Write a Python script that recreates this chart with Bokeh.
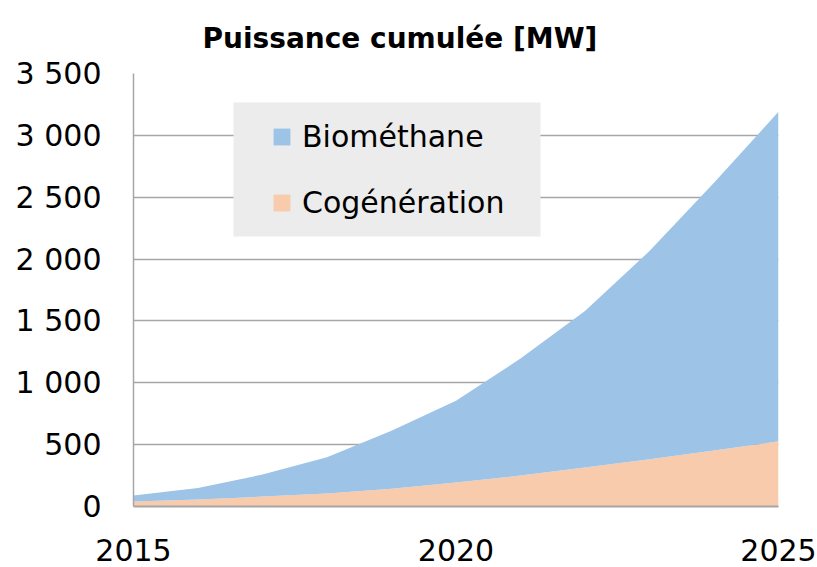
from bokeh.plotting import figure
from bokeh.models import (ColumnDataSource, Legend, LegendItem, FixedTicker,
                          Range1d, BoxAnnotation)
from bokeh.embed import file_html
from bokeh.resources import INLINE

# ---- data ----
years = [2015, 2016, 2017, 2018, 2019, 2020, 2021, 2022, 2023, 2024, 2025]
cogeneration = [40, 57, 80, 106, 143, 193, 250, 315, 382, 452, 527]
biomethane = [49, 93, 178, 292, 470, 662, 946, 1265, 1683, 2164, 2663]
series_names = ["Biométhane", "Cogénération"]
series_colors = ["#9dc3e6", "#f8cbad"]
y_ticks = [0, 500, 1000, 1500, 2000, 2500, 3000, 3500]
y_tick_labels = ["0", "500", "1 000", "1 500", "2 000", "2 500", "3 000", "3 500"]
x_ticks = [2015, 2020, 2025]
x_tick_labels = ["2015", "2020", "2025"]
title_text = "Puissance cumulée [MW]"

FONT = "DejaVu Sans"

src = ColumnDataSource(dict(year=years, cog=cogeneration, bio=biomethane))

p = figure(width=817, height=567, output_backend="svg", toolbar_location=None,
           x_range=Range1d(2015, 2025), y_range=Range1d(0, 3500),
           min_border_left=133, min_border_right=39, min_border_top=72,
           min_border_bottom=61)

p.title.text = title_text
p.title.text_font = FONT
p.title.text_font_size = "28px"
p.title.text_font_style = "bold"
p.title.text_color = "black"
p.title.align = "left"
p.title.offset = 69
p.title.standoff = 38

p.outline_line_color = None
p.background_fill_color = "white"
p.border_fill_color = "white"

r_cog, r_bio = p.varea_stack(stackers=["cog", "bio"], x="year", source=src,
                             color=[series_colors[1], series_colors[0]])

# grid
p.xgrid.grid_line_color = None
p.ygrid.grid_line_color = "#a6a6a6"
p.ygrid.grid_line_width = 1.5
p.ygrid.ticker = FixedTicker(ticks=y_ticks)

# axes
for ax in (p.xaxis[0], p.yaxis[0]):
    ax.major_tick_out = 0
    ax.major_tick_in = 0
    ax.minor_tick_out = 0
    ax.minor_tick_in = 0
    ax.axis_line_color = "#a6a6a6"
    ax.major_label_text_font = FONT
    ax.major_label_text_font_size = "30px"
    ax.major_label_text_color = "black"

p.xaxis.axis_line_width = 2
p.yaxis.axis_line_width = 1.5
p.xaxis.ticker = FixedTicker(ticks=x_ticks)
p.xaxis.major_label_overrides = {t: l for t, l in zip(x_ticks, x_tick_labels)}
p.xaxis.major_label_standoff = 32
p.yaxis.ticker = FixedTicker(ticks=y_ticks)
p.yaxis.major_label_overrides = {t: l for t, l in zip(y_ticks, y_tick_labels)}
p.yaxis.major_label_standoff = 32

# legend background box
box = BoxAnnotation(left=100, right=407, bottom=270, top=404,
                    left_units="screen", right_units="screen",
                    bottom_units="screen", top_units="screen",
                    fill_color="#ececec", fill_alpha=1.0, line_color=None)
p.add_layout(box)

legend = Legend(items=[LegendItem(label=series_names[0], renderers=[r_bio]),
                       LegendItem(label=series_names[1], renderers=[r_cog])],
                location=(138, 286), padding=0, margin=0, spacing=31,
                glyph_width=21, glyph_height=21, label_standoff=10,
                label_text_font=FONT, label_text_font_size="30px",
                label_text_color="black",
                background_fill_alpha=0, border_line_color=None)
p.add_layout(legend)

open("out.html", "w").write(file_html(p, INLINE))
